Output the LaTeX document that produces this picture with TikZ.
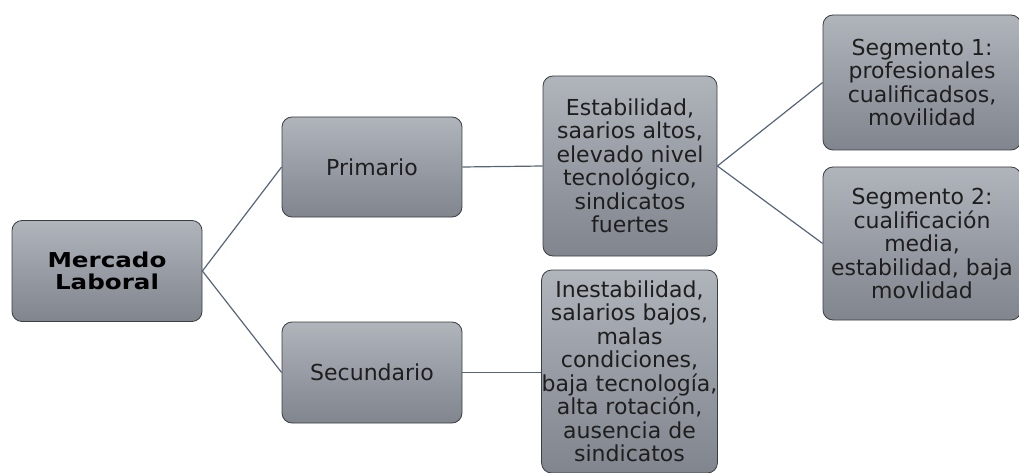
\documentclass[tikz,border=0pt]{standalone}
\usepackage{fontspec}
\setmainfont{DejaVu Sans}
\newfontfamily\wideboldfont[FakeStretch=1.2]{DejaVu Sans Bold}
\definecolor{boxtop}{HTML}{B0B4BB}
\definecolor{boxbot}{HTML}{80858E}
\definecolor{boxline}{HTML}{3A3D42}
\definecolor{conn}{HTML}{56657A}
\definecolor{txt}{HTML}{1E1E1E}
\begin{document}
\begin{tikzpicture}[x=1pt,y=1pt,
  box/.style={draw=boxline, line width=0.8pt, rounded corners=10pt,
    top color=boxtop, bottom color=boxbot, align=center, inner sep=0pt,
    text=txt, font=\fontsize{22}{23.5}\selectfont},
  link/.style={draw=conn, line width=1.2pt}]
\useasboundingbox (0,0) rectangle (1019,472);
\node[box, minimum width=190pt, minimum height=101pt, text=black,
  font=\wideboldfont\fontsize{20.5}{22}\selectfont] (ml) at (107,201) {Mercado\\Laboral};
\node[box, minimum width=180pt, minimum height=100pt] (pri) at (372,305) {Primario};
\node[box, minimum width=180pt, minimum height=101pt] (sec) at (372,99.5) {Secundario};
\node[box, minimum width=174pt, minimum height=180pt] (est) at (630,306)
  {Estabilidad,\\saarios altos,\\elevado nivel\\tecnológico,\\sindicatos\\fuertes};
\node[box, minimum width=175pt, minimum height=203pt] (ine) at (629.5,100.5)
  {Inestabilidad,\\salarios bajos,\\malas\\condiciones,\\baja tecnología,\\alta rotación,\\ausencia de\\sindicatos};
\node[box, minimum width=198pt, minimum height=135pt] (s1) at (922,389.5)
  {Segmento 1:\\profesionales\\cualificadsos,\\movilidad};
\node[box, minimum width=198pt, minimum height=153pt] (s2) at (922,228.5)
  {Segmento 2:\\cualificación\\media,\\estabilidad, baja\\movlidad};
\draw[link] (ml.east) -- (pri.west);
\draw[link] (ml.east) -- (sec.west);
\draw[link] (pri.east) -- (est.west);
\draw[link] (sec.east) -- (sec.east -| ine.west);
\draw[link] (est.east) -- (s1.west);
\draw[link] (est.east) -- (s2.west);
\end{tikzpicture}
\end{document}
